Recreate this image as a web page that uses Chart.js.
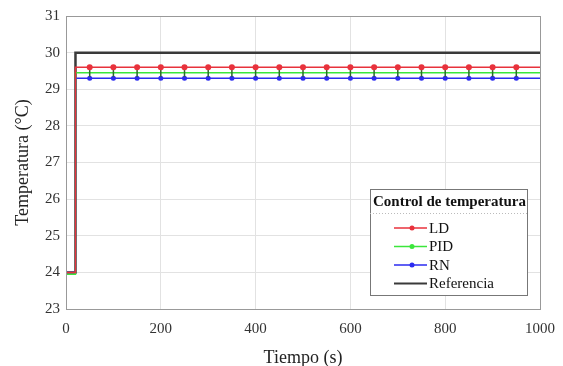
<!DOCTYPE html>
<html>
<head>
<meta charset="utf-8">
<script src="https://cdn.jsdelivr.net/npm/chart.js@4.4.1/dist/chart.umd.min.js"></script>
<style>
  html, body { margin: 0; padding: 0; background: #fff; }
  #wrap { width: 563px; height: 366px; position: relative; }
</style>
</head>
<body>
<div id="wrap"><canvas id="tempChart"></canvas></div>
<script>
// datos
const tiempo = [0, 20, 20, 50, 100, 150, 200, 250, 300, 350, 400, 450, 500, 550, 600, 650, 700, 750, 800, 850, 900, 950, 1000];
const serieLD  = [24, 24, 29.6, 29.6, 29.6, 29.6, 29.6, 29.6, 29.6, 29.6, 29.6, 29.6, 29.6, 29.6, 29.6, 29.6, 29.6, 29.6, 29.6, 29.6, 29.6, 29.6, 29.6];
const seriePID = [23.95, 23.95, 29.45, 29.45, 29.45, 29.45, 29.45, 29.45, 29.45, 29.45, 29.45, 29.45, 29.45, 29.45, 29.45, 29.45, 29.45, 29.45, 29.45, 29.45, 29.45, 29.45, 29.45];
const serieRN  = [24, 24, 29.3, 29.3, 29.3, 29.3, 29.3, 29.3, 29.3, 29.3, 29.3, 29.3, 29.3, 29.3, 29.3, 29.3, 29.3, 29.3, 29.3, 29.3, 29.3, 29.3, 29.3];
const serieRef = [24, 24, 30, 30, 30, 30, 30, 30, 30, 30, 30, 30, 30, 30, 30, 30, 30, 30, 30, 30, 30, 30, 30];
const ticksY = [23, 24, 25, 26, 27, 28, 29, 30, 31];
const ticksX = [0, 200, 400, 600, 800, 1000];

const nombres = ['LD', 'PID', 'RN', 'Referencia'];
const colores = ['#e8323c', '#3ce63c', '#2b2bf0', '#3a3a3a'];

const fuente = '"Liberation Serif", "Times New Roman", serif';

// marcadores cada 50 s (sin los extremos)
function radioMarca(ctx) {
    const t = tiempo[ctx.dataIndex];
    return (t > 20 && t < 1000) ? 3 : 0;
}

function armarSerie(nombre, valores, color, extra) {
    return Object.assign({
        label: nombre,
        data: tiempo.map((t, i) => ({ x: t, y: valores[i] })),
        borderColor: color,
        backgroundColor: color,
        borderWidth: 1.5,
        pointRadius: radioMarca,
        pointBorderWidth: 0,
        pointHoverRadius: 0,
        tension: 0
    }, extra || {});
}

// marco completo alrededor del area
const marco = {
    id: 'marco',
    afterDatasetsDraw(chart) {
        const a = chart.chartArea, c = chart.ctx;
        c.save();
        c.strokeStyle = '#999';
        c.lineWidth = 1;
        c.strokeRect(a.left + 0.5, a.top + 0.5, a.right - a.left, a.bottom - a.top);
        c.restore();
    }
};

// leyenda dibujada dentro del area del grafico
const leyendaCaja = {
    id: 'leyendaCaja',
    afterDraw(chart) {
        const c = chart.ctx;
        const x0 = 370, y0 = 189, w = 157, h = 106;
        c.save();
        c.fillStyle = '#fff';
        c.fillRect(x0, y0, w, h);
        c.strokeStyle = '#777';
        c.lineWidth = 1;
        c.strokeRect(x0 + 0.5, y0 + 0.5, w, h);
        c.fillStyle = '#111';
        c.font = 'bold 15px ' + fuente;
        c.textBaseline = 'middle';
        c.fillText('Control de temperatura', x0 + 3, y0 + 13);
        c.strokeStyle = '#bbb';
        c.setLineDash([1, 2]);
        c.beginPath();
        c.moveTo(x0, y0 + 24.5);
        c.lineTo(x0 + w, y0 + 24.5);
        c.stroke();
        c.setLineDash([]);
        c.font = '15px ' + fuente;
        nombres.forEach((n, i) => {
            const yy = y0 + 39 + i * 18.5;
            c.strokeStyle = colores[i];
            c.lineWidth = i === 3 ? 2 : 1.5;
            c.beginPath();
            c.moveTo(x0 + 24, yy);
            c.lineTo(x0 + 57, yy);
            c.stroke();
            if (i < 3) {
                c.fillStyle = colores[i];
                c.beginPath();
                c.arc(x0 + 42, yy, 2.5, 0, Math.PI * 2);
                c.fill();
            }
            c.fillStyle = '#111';
            c.fillText(n, x0 + 59, yy + 1);
        });
        c.restore();
    }
};

new Chart(document.getElementById('tempChart'), {
    type: 'line',
    data: {
        datasets: [
            armarSerie('LD', serieLD, colores[0]),
            armarSerie('PID', seriePID, colores[1], {
                pointStyle: 'line', rotation: 90, pointBorderColor: '#2a6a2a',
                pointRadius: ctx => radioMarca(ctx) ? 4 : 0, pointBorderWidth: 1.5
            }),
            armarSerie('RN', serieRN, colores[2], { pointRadius: ctx => radioMarca(ctx) ? 2.5 : 0 }),
            armarSerie('Referencia', serieRef, colores[3], { borderWidth: 2.5, pointRadius: 0 })
        ]
    },
    options: {
        responsive: true,
        maintainAspectRatio: false,
        animation: false,
        layout: { padding: { top: 16, right: 23, left: 0, bottom: 0 } },
        plugins: {
            legend: { display: false },
            tooltip: { enabled: false }
        },
        scales: {
            x: {
                type: 'linear',
                min: 0,
                max: 1000,
                afterBuildTicks: s => { s.ticks = ticksX.map(v => ({ value: v })); },
                afterFit: s => { s.height = 57; s.paddingLeft = 0; s.paddingRight = 0; },
                grid: { color: '#e2e2e2', drawTicks: false, tickLength: 0 },
                border: { color: '#888', width: 1 },
                ticks: { color: '#333', font: { family: fuente, size: 15 }, padding: 11, maxRotation: 0, callback: v => String(v) },
                title: { display: true, text: 'Tiempo (s)', color: '#222', font: { family: fuente, size: 18 }, padding: { top: 0, bottom: -3 } }
            },
            y: {
                min: 23,
                max: 31,
                afterBuildTicks: s => { s.ticks = ticksY.map(v => ({ value: v })); },
                afterFit: s => { s.width = 66; },
                grid: { color: '#e2e2e2', drawTicks: false, tickLength: 0 },
                border: { color: '#888', width: 1 },
                ticks: { color: '#333', font: { family: fuente, size: 15 }, padding: 6 },
                title: { display: true, text: 'Temperatura (°C)', color: '#222', font: { family: fuente, size: 18 }, padding: { top: 12, bottom: 0 } }
            }
        }
    },
    plugins: [marco, leyendaCaja]
});
</script>
</body>
</html>
